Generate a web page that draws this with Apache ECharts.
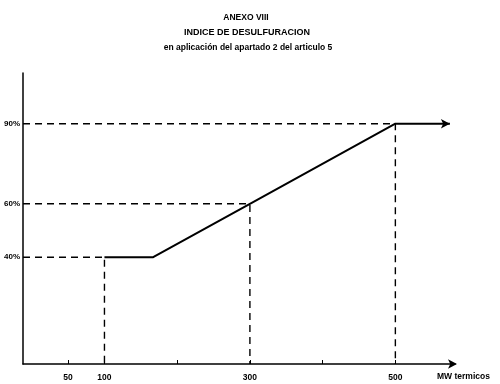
<!DOCTYPE html>
<html><head><meta charset="utf-8">
<script src="https://cdn.jsdelivr.net/npm/echarts@6/dist/echarts.min.js"></script>
<style>html,body{margin:0;padding:0;background:#fff}#c{width:500px;height:384px}</style>
</head><body><div id="c"></div>
<script>
const titleLines = ['ANEXO VIII', 'INDICE DE DESULFURACION', 'en aplicación del apartado 2 del articulo 5'];
const xName = 'MW termicos';
const curveX = [100, 167, 300, 500, 575];
const curveY = [40, 40, 60, 90, 90];
const guideX = [100, 300, 500];
const guideY = [40, 60, 90];
const xTicks = [50, 100, 200, 300, 400, 500];
const xLabels = [50, 100, 300, 500];
const yLabels = [40, 60, 90];

const X_MIN = -12, X_MAX = 582, Y_MIN = 0, Y_MAX = 109;
const font = '"Liberation Sans", Arial, sans-serif';

const curveData = curveX.map((x, i) => {
  const d = { value: [x, curveY[i]] };
  if (i === curveX.length - 1) {
    d.symbol = 'arrow'; d.symbolSize = [7, 9]; d.symbolRotate = -90;
    d.itemStyle = { color: '#000' };
  }
  return d;
});

const guideSeries = guideX.map((x, i) => ({
  type: 'line',
  data: [[X_MIN, guideY[i]], [x, guideY[i]], [x, Y_MIN]],
  symbol: 'none',
  silent: true,
  lineStyle: { color: '#000', width: 1.4, type: [7, 5] },
  z: 1
}));

const chart = echarts.init(document.getElementById('c'), null, { renderer: 'canvas' });
chart.setOption({
  animation: false,
  backgroundColor: '#fff',
  grid: { left: 23, right: 45, top: 73, bottom: 20, containLabel: false },
  title: [
    { text: titleLines[0], left: 241, top: 8, textAlign: 'center',
      textStyle: { fontFamily: font, fontSize: 8.5, fontWeight: 'bold', color: '#000' } },
    { text: titleLines[1], left: 242, top: 23, textAlign: 'center',
      textStyle: { fontFamily: font, fontSize: 9, fontWeight: 'bold', color: '#000' } },
    { text: titleLines[2], left: 243, top: 38, textAlign: 'center',
      textStyle: { fontFamily: font, fontSize: 8.5, fontWeight: 'bold', color: '#000' } }
  ],
  xAxis: {
    type: 'value', min: X_MIN, max: X_MAX,
    splitLine: { show: false },
    axisLine: { show: true, onZero: false, lineStyle: { color: '#000', width: 1.5 },
      symbol: ['none', 'arrow'], symbolSize: [7, 9], symbolOffset: [0, 2] },
    axisTick: { show: true, inside: true, length: 4, customValues: xTicks, lineStyle: { color: '#000', width: 1 } },
    axisLabel: { customValues: xLabels, color: '#000', fontFamily: font, fontSize: 8.5, fontWeight: 'bold', margin: 9 }
  },
  yAxis: {
    type: 'value', min: Y_MIN, max: Y_MAX,
    splitLine: { show: false },
    axisLine: { show: true, onZero: false, lineStyle: { color: '#000', width: 1.5 } },
    axisTick: { show: false },
    axisLabel: { customValues: yLabels, formatter: '{value}%', color: '#000', fontFamily: font, fontSize: 8, fontWeight: 'bold', margin: 3 }
  },
  graphic: [
    { type: 'text', left: 437, top: 372,
      style: { text: xName, fill: '#000', font: 'bold 8.5px ' + font } }
  ],
  series: [
    ...guideSeries,
    {
      type: 'line',
      data: curveData,
      symbol: 'none',
      showSymbol: true,
      lineStyle: { color: '#000', width: 2 },
      z: 3
    }
  ]
});
</script>
</body></html>
